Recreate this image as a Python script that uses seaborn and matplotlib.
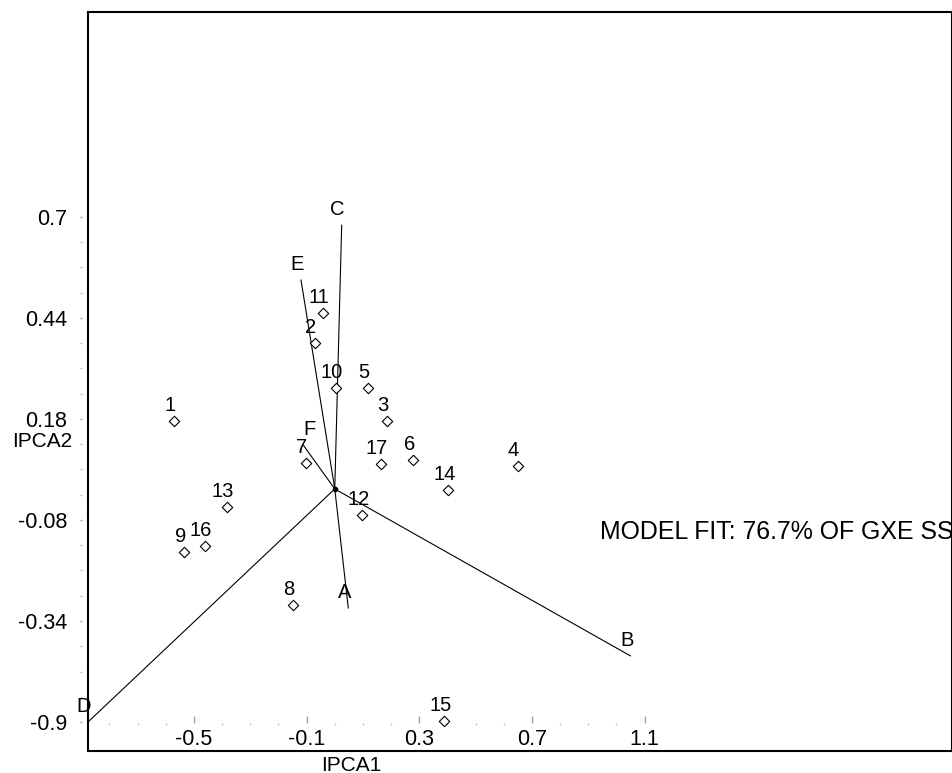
import numpy as np
import pandas as pd
import matplotlib
matplotlib.use("Agg")
import matplotlib.pyplot as plt
import seaborn as sns
from matplotlib.patches import Rectangle
from matplotlib.ticker import FixedLocator

# ---------------- data ----------------
genotypes = [str(i) for i in range(1, 18)]
gen_ipca1 = [-0.571, -0.070, 0.184, 0.649, 0.119, 0.279, -0.102, -0.149, -0.534,
             0.004, -0.041, 0.098, -0.382, 0.403, 0.389, -0.461, 0.163]
gen_ipca2 = [0.175, 0.375, 0.175, 0.059, 0.259, 0.074, 0.067, -0.299, -0.162,
             0.259, 0.454, -0.067, -0.046, -0.003, -0.597, -0.146, 0.064]

environments = ["A", "B", "C", "D", "E", "F"]
env_ipca1 = [0.048, 1.050, 0.0245, -0.876, -0.120, -0.112]
env_ipca2 = [-0.307, -0.430, 0.679, -0.600, 0.538, 0.113]

x_ticks = [-0.5, -0.1, 0.3, 0.7, 1.1]
x_tick_labels = ["-0.5", "-0.1", "0.3", "0.7", "1.1"]
y_ticks = [0.70, 0.44, 0.18, -0.08, -0.34, -0.60]
y_tick_labels = ["0.7", "0.44", "0.18", "-0.08", "-0.34", "-0.9"]

fit_text = "MODEL FIT: 76.7% OF GXE SS"

# ---------------- style ----------------
sns.set_theme(style="white")
plt.rcParams["font.family"] = ["Liberation Sans", "DejaVu Sans"]

W, H = 953, 773
fig = plt.figure(figsize=(W / 100, H / 100), dpi=100)
ax = fig.add_axes([88 / W, 22 / H, 864 / W, 739 / H])

gen_df = pd.DataFrame({"IPCA1": gen_ipca1, "IPCA2": gen_ipca2, "label": genotypes})
seg_rows = []
for e, x, y in zip(environments, env_ipca1, env_ipca2):
    seg_rows.append({"env": e, "IPCA1": 0.0, "IPCA2": 0.0, "step": 0})
    seg_rows.append({"env": e, "IPCA1": x, "IPCA2": y, "step": 1})
seg_df = pd.DataFrame(seg_rows)

# environment vectors
sns.lineplot(data=seg_df, x="IPCA1", y="IPCA2", units="env", estimator=None,
             sort=False, color="black", lw=0.8, ax=ax, legend=False)
# origin point
ax.plot([0], [0], "o", color="black", ms=3, zorder=4)

# genotype markers
sns.scatterplot(data=gen_df, x="IPCA1", y="IPCA2", marker="D", s=28,
                facecolor="white", edgecolor="black", linewidth=0.8, ax=ax,
                zorder=3, legend=False)

px = 0.72  # points per pixel at 100 dpi
default_off = (-4 * px, 15.5 * px)
env_off = {"F": (6 * px, 16 * px)}
for lab, x, y in zip(genotypes, gen_ipca1, gen_ipca2):
    ax.annotate(lab, (x, y), xytext=default_off, textcoords="offset points",
                ha="center", va="center", fontsize=14.5, color="black", zorder=5)
for lab, x, y in zip(environments, env_ipca1, env_ipca2):
    ax.annotate(lab, (x, y), xytext=env_off.get(lab, default_off),
                textcoords="offset points", ha="center", va="center",
                fontsize=14.5, color="black", zorder=5)

ax.text(0.941, -0.110, fit_text, ha="left", va="center", fontsize=17.9,
        color="black")

ax.set_xlim(-0.876, 2.191)
ax.set_ylim(-0.6746, 1.2275)

# ticks
ax.xaxis.set_major_locator(FixedLocator(x_ticks))
ax.set_xticklabels(x_tick_labels)
ax.xaxis.set_minor_locator(FixedLocator(list(np.arange(-0.8, 1.05, 0.1))))
ax.yaxis.set_major_locator(FixedLocator(y_ticks))
ax.set_yticklabels(y_tick_labels)
ax.yaxis.set_minor_locator(FixedLocator(list(np.arange(-0.60, 0.70, 0.065))))

for s in ax.spines.values():
    s.set_visible(False)
ax.spines["bottom"].set_position(("data", -0.6026))
ax.spines["left"].set_position(("outward", 4.3))

ax.tick_params(axis="x", which="major", direction="in", length=5, width=1,
               color="#a0a0a0", pad=4.5, labelsize=15.5, labelcolor="black",
               bottom=True)
ax.tick_params(axis="x", which="minor", direction="out", length=1.5, width=1,
               color="#c0c0c0", bottom=True)
ax.tick_params(axis="y", which="major", direction="out", length=1.8, width=1,
               color="#a0a0a0", pad=9, labelsize=15.5, labelcolor="black",
               left=True)
ax.tick_params(axis="y", which="minor", direction="out", length=1.2, width=1,
               color="#c0c0c0", left=True)

ax.set_xlabel("IPCA1", fontsize=15, va="center", color="black")
ax.xaxis.set_label_coords(0.305, -0.019)
ax.set_ylabel("IPCA2", fontsize=15, rotation=0, ha="center", va="center",
              color="black")
ax.yaxis.set_label_coords(-0.0536, 0.4185)

ax.add_patch(Rectangle((0, 0), 1, 1, transform=ax.transAxes, fill=False,
                       lw=1.5, ec="black", clip_on=False, zorder=6))

fig.savefig("out.png", dpi=100, facecolor="white")
